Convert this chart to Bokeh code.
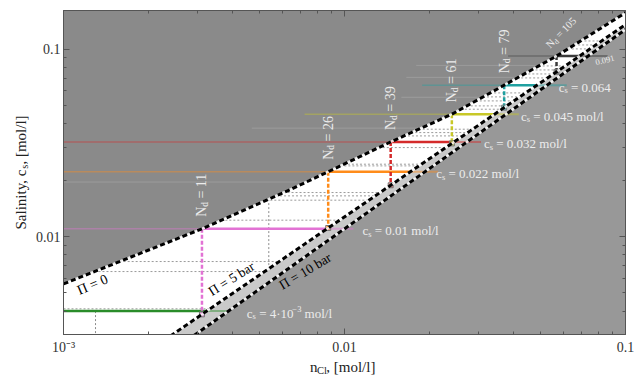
import math
import numpy as np
from bokeh.plotting import figure
from bokeh.layouts import row, column
from bokeh.models import Range1d, LogAxis, FixedTicker
from bokeh.core.properties import value
from bokeh.embed import file_html
from bokeh.resources import INLINE

# ---------------- data ----------------
X_RANGE = (0.001, 0.1)
Y_RANGE = (0.003, 0.161)

# Pi = 0 boundary (n_Cl, c_s)
pi0_x = [0.001, 0.00311, 0.00649, 0.00875, 0.0146, 0.0241, 0.0370, 0.0569, 0.0984, 0.1]
pi0_y = [0.00559, 0.0110, 0.01797, 0.0222, 0.0320, 0.0450, 0.0643, 0.0921, 0.1543, 0.1575]
# Pi = 5 bar and Pi = 10 bar boundaries (straight in log-log)
pi5_x = [0.002435, 0.0984]
pi5_y = [0.002989, 0.1331]
pi10_x = [0.002938, 0.0984]
pi10_y = [0.002989, 0.1252]

# feed salinity stages
cs_levels = [0.004, 0.011, 0.0222, 0.032, 0.045, 0.0643, 0.092]
cs_colors = ["#2a8c2a", "#e272d4", "#ff8c1a", "#d42a2a", "#c8c828", "#1fa0a0", "#3a3a3a"]
cs_faint_start = [0.001, 0.001, 0.001, 0.001, 0.00721, 0.0189, 0.0382]
cs_faint_end = [0.003815, 0.01076, 0.02154, 0.0306, 0.04174, 0.0618, 0.0864]
cs_label_x = [0.004493, 0.01158, 0.02120, 0.03136, 0.04243, 0.05786]
NB = "\u00a0"
cs_label_text = [NB + "=" + NB + "4\u00b710", NB + "=" + NB + "0.01 mol/l",
                 NB + "=" + NB + "0.022 mol/l", NB + "=" + NB + "0.032 mol/l",
                 NB + "=" + NB + "0.045 mol/l", NB + "=" + NB + "0.064"]
nd_values = [11, 26, 39, 61, 79, 105]   # stages 2..7

# fine dotted sub-levels inside the allowed region
dotted_levels = [0.004114, 0.006504, 0.007356, 0.01223, 0.01564, 0.01649, 0.01718,
                 0.02384, 0.02434, 0.02985, 0.03446, 0.03589, 0.03742, 0.04784,
                 0.04983, 0.05298, 0.05566, 0.05846, 0.07028, 0.07381, 0.07753,
                 0.08144, 0.1004, 0.1054, 0.1107]
dotted_vert_x = [0.0013, 0.005377]
# faint ghost levels in the upper grey region
ghost_levels = [0.0820, 0.0708, 0.0554, 0.03792, 0.01955]
ghost_start = [0.0180, 0.0166, 0.01593, 0.004678, 0.001]

# ---------------- layout constants (page pixels; page starts at 0) ----------------
LEFT_W = 32            # y-label strip
MAIN_W, MAIN_H = 604, 357
BOT_H = 18             # x-label strip
FRAME_L, FRAME_T, FRAME_W, FRAME_H = 61, 10, 564, 325
KX = FRAME_W / math.log10(X_RANGE[1] / X_RANGE[0])
KY = FRAME_H / math.log10(Y_RANGE[1] / Y_RANGE[0])

def px_to_data(px, py):
    return (X_RANGE[0] * 10 ** ((px - FRAME_L) / KX),
            Y_RANGE[0] * 10 ** ((FRAME_T + FRAME_H - py) / KY))

def shift(x, y, along=0.0, perp=0.0, angle=0.0):
    dx = along * math.cos(angle) + perp * math.sin(angle)
    dy = along * math.sin(angle) - perp * math.cos(angle)
    return x * 10 ** (dx / KX), y * 10 ** (dy / KY)

WID = {'0': .5, '1': .5, '2': .5, '3': .5, '4': .5, '5': .5, '6': .5, '7': .5, '8': .5, '9': .5,
       ' ': .25, NB: .25, '=': .564, '.': .25, 'm': .778, 'o': .5, 'l': .278, '/': .278,
       'N': .722, 'c': .444, 's': .389, 'd': .5, '\u00b7': .25, 'S': .556, 'a': .444,
       'i': .278, 'n': .5, 't': .278, 'y': .5, ',': .25, '[': .333, ']': .333, 'C': .667,
       '\u2212': .564}

def tw(s, size):
    return sum(WID.get(ch, .5) for ch in s) * size

lx0, ly0 = np.log10(pi0_x), np.log10(pi0_y)

def pi0_x_at(y):
    return float(10 ** np.interp(math.log10(y), ly0, lx0))

def pi0_y_at(x):
    return float(10 ** np.interp(math.log10(x), lx0, ly0))

def line_y(x, xs, ys):
    s = (math.log10(ys[1]) - math.log10(ys[0])) / (math.log10(xs[1]) - math.log10(xs[0]))
    return 10 ** (math.log10(ys[0]) + s * (math.log10(x) - math.log10(xs[0])))

def line_x(y, xs, ys):
    s = (math.log10(ys[1]) - math.log10(ys[0])) / (math.log10(xs[1]) - math.log10(xs[0]))
    return 10 ** (math.log10(xs[0]) + (math.log10(y) - math.log10(ys[0])) / s)

SERIF = "Liberation Serif"

# ---------------- main figure ----------------
b_left = FRAME_L - LEFT_W
b_top = FRAME_T
p = figure(width=MAIN_W, height=MAIN_H, x_axis_type="log", y_axis_type="log",
           x_range=Range1d(*X_RANGE), y_range=Range1d(*Y_RANGE),
           output_backend="svg", toolbar_location=None,
           min_border_left=b_left, min_border_right=MAIN_W - b_left - FRAME_W,
           min_border_top=b_top, min_border_bottom=MAIN_H - b_top - FRAME_H)
p.background_fill_color = "white"
p.border_fill_color = "white"
p.outline_line_color = "#555555"
p.grid.visible = False

xt = FixedTicker(ticks=[0.001, 0.01, 0.1],
                 minor_ticks=[k * 1e-3 for k in range(2, 10)] + [k * 1e-2 for k in range(2, 10)])
yt = FixedTicker(ticks=[0.01, 0.1],
                 minor_ticks=[k * 1e-3 for k in range(3, 10)] + [k * 1e-2 for k in range(2, 10)])
p.xaxis.ticker = xt
p.yaxis.ticker = yt
p.xaxis.major_label_overrides = {0.001: "10\u207b\u00b3", 0.01: "0.01", 0.1: "0.1"}
p.yaxis.major_label_overrides = {0.01: "0.01", 0.1: "0.1"}
top_ax = LogAxis(ticker=xt)
right_ax = LogAxis(ticker=yt)
p.add_layout(top_ax, "above")
p.add_layout(right_ax, "right")
for ax in p.axis:
    ax.major_tick_in = 6
    ax.major_tick_out = 0
    ax.minor_tick_in = 3
    ax.minor_tick_out = 0
    ax.axis_line_color = "#555555"
    ax.major_tick_line_color = "#555555"
    ax.minor_tick_line_color = "#555555"
    ax.major_label_text_font = SERIF
    ax.major_label_text_font_size = "14px"
    ax.major_label_text_color = "#333333"
for ax in (top_ax, right_ax):
    ax.major_label_text_font_size = "1px"
    ax.major_label_text_alpha = 0
    ax.major_label_standoff = 0
p.xaxis[0].major_label_standoff = 4
p.yaxis[0].major_label_standoff = 3

# ---------------- regions ----------------
xa_far, xb_far = X_RANGE[0] / 2, X_RANGE[1] * 2
y_lo, y_hi = Y_RANGE[0] / 2, Y_RANGE[1] * 2
p.patch(pi0_x + [X_RANGE[1], X_RANGE[0]], pi0_y + [y_hi, y_hi],
        fill_color="#8a8a8a", line_color=None)
p.patch([xa_far, xb_far, xb_far, xa_far],
        [line_y(xa_far, pi5_x, pi5_y), line_y(xb_far, pi5_x, pi5_y),
         line_y(xb_far, pi10_x, pi10_y), line_y(xa_far, pi10_x, pi10_y)],
        fill_color="#c9c9c9", line_color=None)
p.patch([xa_far, xb_far, xb_far, xa_far],
        [line_y(xa_far, pi10_x, pi10_y), line_y(xb_far, pi10_x, pi10_y), y_lo, y_lo],
        fill_color="#989898", line_color=None)

# ghost lines in grey region
for lvl, xs in zip(ghost_levels, ghost_start):
    xe = pi0_x_at(lvl)
    p.line([xs, xe], [lvl, lvl], line_color="#a8a8a8", line_width=1, line_alpha=0.6)

# dotted sub-levels
for lvl in dotted_levels:
    xa = pi0_x_at(lvl)
    xb = line_x(lvl, pi5_x, pi5_y)
    if xb > xa:
        p.line([xa, xb], [lvl, lvl], line_color="#9a9a9a", line_width=1, line_dash="2 2")
p.line([dotted_vert_x[0]] * 2, [cs_levels[0], Y_RANGE[0]], line_color="#8c8c8c",
       line_width=1, line_dash="2 2")
p.line([dotted_vert_x[1]] * 2, [pi0_y_at(dotted_vert_x[1]), line_y(dotted_vert_x[1], pi5_x, pi5_y)],
       line_color="#8c8c8c", line_width=1, line_dash="2 2")

# staircase
for i, (c, col) in enumerate(zip(cs_levels, cs_colors)):
    xa = pi0_x_at(c)
    xb = line_x(c, pi5_x, pi5_y)
    if cs_faint_start[i] < xa:
        p.line([cs_faint_start[i], xa], [c, c], line_color=col, line_width=1.5, line_alpha=0.4)
    p.line([xb, cs_faint_end[i]], [c, c], line_color=col, line_width=2, line_alpha=0.45)
    p.line([xa, xb], [c, c], line_color=col, line_width=2.5)
    if i > 0:
        yb = line_y(xa, pi5_x, pi5_y)
        p.line([xa, xa], [c, yb], line_color=col, line_width=2.5, line_dash="4 2")
        p.scatter([xa], [yb], marker="square", size=5, fill_color=col, fill_alpha=0.5,
                  line_color="#777777")

# Pi boundaries
for xs, ys in [(pi0_x, pi0_y),
               ([xa_far, xb_far], [line_y(xa_far, pi5_x, pi5_y), line_y(xb_far, pi5_x, pi5_y)]),
               ([xa_far, xb_far], [line_y(xa_far, pi10_x, pi10_y), line_y(xb_far, pi10_x, pi10_y)])]:
    p.line(xs, ys, line_color="white", line_width=2.5, line_alpha=0.8)
    p.line(xs, ys, line_color="black", line_width=3, line_dash="5 3")

# ---------------- texts ----------------
def add_text(fig, xs, ys, texts, size, color, angle=0.0, align="left"):
    fig.text(x=xs, y=ys, text=texts, angle=angle, text_font=value(SERIF),
             text_font_size=size, text_color=color, text_align=align, text_baseline="middle")

for txt, (cx, cy), ang, size in [("\u03a0 = 0", (90, 285), 0.40, "14px"),
                                 ("\u03a0 = 5 bar", (229.5, 279), 0.56, "13.5px"),
                                 ("\u03a0 = 10 bar", (303.5, 271.5), 0.54, "13.5px")]:
    x, y = px_to_data(cx, cy)
    add_text(p, [x], [y], [txt], size, "black", angle=ang, align="center")

WHITE = "#ececec"
CF, CFS = 13, 8.5
for i, (lx, txt) in enumerate(zip(cs_label_x, cs_label_text)):
    c = cs_levels[i]
    x0, y0 = shift(lx, c, perp=2)
    add_text(p, [x0], [y0], ["c"], f"{CF}px", WHITE)
    xs_, ys_ = shift(x0, y0, along=tw("c", CF), perp=3)
    add_text(p, [xs_], [ys_], ["s"], f"{CFS}px", WHITE)
    a2 = tw("c", CF) + tw("s", CFS)
    xr, yr = shift(x0, y0, along=a2)
    add_text(p, [xr], [yr], [txt], f"{CF}px", WHITE)
    if i == 0:
        a3 = a2 + tw(txt, CF)
        xe, ye = shift(x0, y0, along=a3, perp=-4)
        add_text(p, [xe], [ye], ["\u22123"], f"{CFS}px", WHITE)
        a4 = a3 + tw("\u22123", CFS)
        xm, ym = shift(x0, y0, along=a4)
        add_text(p, [xm], [ym], [NB + "mol/l"], f"{CF}px", WHITE)
x91, y91 = px_to_data(595, 62)
add_text(p, [x91], [y91], ["0.091"], "8.5px", WHITE, angle=0.25)

for k, nd in enumerate(nd_values):
    c = cs_levels[k + 1]
    xv = pi0_x_at(c)
    if nd == 105:
        ang, fs, fss = 0.8, 10.5, 7.5
        x0, y0 = px_to_data(547, 46)
    else:
        ang, fs, fss = math.pi / 2, 14, 9.5
        x0, y0 = shift(xv, c, along=12, angle=ang)
    add_text(p, [x0], [y0], ["N"], f"{fs}px", WHITE, angle=ang)
    xd, yd = shift(x0, y0, along=tw("N", fs), perp=3, angle=ang)
    add_text(p, [xd], [yd], ["d"], f"{fss}px", WHITE, angle=ang)
    xr, yr = shift(x0, y0, along=tw("N", fs) + tw("d", fss), angle=ang)
    add_text(p, [xr], [yr], [f"{NB}={NB}{nd}"], f"{fs}px", WHITE, angle=ang)

# ---------------- axis-label strips ----------------
def strip(w, h):
    f = figure(width=w, height=h, x_range=Range1d(0, w), y_range=Range1d(0, h),
               output_backend="svg", toolbar_location=None,
               x_axis_location=None, y_axis_location=None,
               min_border=0, min_border_left=0, min_border_right=0,
               min_border_top=0, min_border_bottom=0)
    f.outline_line_color = None
    f.grid.visible = False
    f.background_fill_color = "white"
    f.border_fill_color = "white"
    return f

LBL_C = "#222222"
bot = strip(MAIN_W, BOT_H)
bx, by = 297 - LEFT_W, 9
add_text(bot, [bx], [by], ["n"], "15px", LBL_C)
add_text(bot, [bx + tw("n", 15)], [by - 4], ["Cl"], "10.5px", LBL_C)
add_text(bot, [bx + tw("n", 15) + tw("Cl", 10.5)], [by], [",\u00a0[mol/l]"], "15px", LBL_C)

TOT_H = MAIN_H + BOT_H
left = strip(LEFT_W, TOT_H)
ang = math.pi / 2
lx_, ly_ = 20, TOT_H - 229
w1 = tw("Salinity, c", 15)
add_text(left, [lx_], [ly_], ["Salinity,\u00a0c"], "15px", LBL_C, angle=ang)
add_text(left, [lx_ + 4], [ly_ + w1], ["s"], "10.5px", LBL_C, angle=ang)
add_text(left, [lx_], [ly_ + w1 + tw("s", 10.5)], [",\u00a0[mol/l]"], "15px", LBL_C, angle=ang)

layout = row(left, column(p, bot, spacing=0), spacing=0)
open("out.html", "w").write(file_html(layout, INLINE))
